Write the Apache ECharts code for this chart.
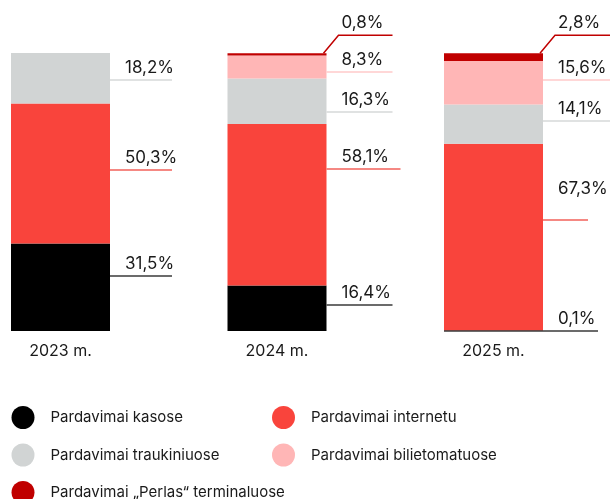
<!DOCTYPE html>
<html>
<head>
<meta charset="utf-8">
<script src="https://cdn.jsdelivr.net/npm/echarts@6/dist/echarts.min.js"></script>
<style>
  html, body { margin: 0; padding: 0; background: #fff; }
  #chart { width: 612px; height: 499px; }
</style>
</head>
<body>
<div id="chart"></div>
<script>
const categories = ['2023 m.', '2024 m.', '2025 m.']
const seriesNames = [
  'Pardavimai kasose',
  'Pardavimai internetu',
  'Pardavimai traukiniuose',
  'Pardavimai bilietomatuose',
  'Pardavimai „Perlas“ terminaluose',
]
const kasose = [31.5, 16.4, 0.1]
const internetu = [50.3, 58.1, 67.3]
const traukiniuose = [18.2, 16.3, 14.1]
const bilietomatuose = [null, 8.3, 15.6]
const perlas = [null, 0.8, 2.8]

const values = [kasose, internetu, traukiniuose, bilietomatuose, perlas]
const colors = ['#000000', '#f9443c', '#d1d4d4', '#ffb6b6', '#c00000']
const lineColors = ['#3a3a3a', '#f2605a', '#d6d8d8', '#ffcaca', '#c00000']

const BAR_W = 99

// hand placement of the value labels: line shift from segment middle (px),
// line length, extra text lift, line start shift, elbow leader
const labelLayout = {
  '0-0': { dy: -11, len: 62 },
  '0-1': { dy: -4, len: 62 },
  '0-2': { dy: 2, len: 62 },
  '1-0': { dy: -3, len: 66 },
  '1-1': { dy: -36, len: 74 },
  '1-2': { dy: 11, len: 66 },
  '1-3': { dy: 5, len: 66 },
  '1-4': { elbow: true, len: 66 },
  '2-0': { dy: 0, len: 55, x0: -BAR_W },
  '2-1': { dy: -17, len: 45, lift: 19 },
  '2-2': { dy: -3, len: 67 },
  '2-3': { dy: -3, len: 67 },
  '2-4': { elbow: true, len: 67 },
}

const fmt = (v) => v.toFixed(1).replace('.', ',') + '%'

// one label item per segment: [category, base, value, series]
const labelData = []
categories.forEach((c, ci) => {
  let base = 0
  values.forEach((arr, si) => {
    const v = arr[ci]
    if (v == null) return
    labelData.push([ci, base, v, si])
    base += v
  })
})

function renderLabel(params, api) {
  const ci = api.value(0)
  const base = api.value(1)
  const v = api.value(2)
  const si = api.value(3)
  const lay = labelLayout[ci + '-' + si] || { dy: 0, len: 64 }
  const pb = api.coord([ci, base])
  const pt = api.coord([ci, base + v])
  const right = pb[0] + BAR_W / 2
  const stroke = { stroke: lineColors[si], lineWidth: 1.5, fill: null }
  const textStyle = {
    text: fmt(v),
    x: right + 15,
    fill: '#1a1a1a',
    font: '17px Inter',
    verticalAlign: 'bottom',
  }
  if (lay.elbow) {
    const y = pt[1] - 18
    return {
      type: 'group',
      children: [
        {
          type: 'polyline',
          shape: { points: [[right - 3, pt[1]], [right + 12, y], [right + lay.len, y]] },
          style: stroke,
        },
        { type: 'text', style: Object.assign(textStyle, { y: y - 4 }) },
      ],
    }
  }
  const y = Math.round((pb[1] + pt[1]) / 2 + lay.dy)
  return {
    type: 'group',
    children: [
      {
        type: 'line',
        shape: { x1: right + (lay.x0 || 0), y1: y, x2: right + lay.len, y2: y },
        style: stroke,
      },
      { type: 'text', style: Object.assign(textStyle, { y: y - 4 - (lay.lift || 0) }) },
    ],
  }
}

const chart = echarts.init(document.getElementById('chart'))

const legendBase = {
  orient: 'vertical',
  top: 406,
  height: 130,
  padding: 0,
  itemGap: 14.5,
  itemWidth: 23,
  itemHeight: 23,
  icon: 'circle',
  selectedMode: false,
  textStyle: { fontFamily: 'Inter', fontSize: 15, color: '#1a1a1a', padding: [0, 0, 0, 11] },
}

chart.setOption({
  animation: false,
  grid: { left: 60.5, right: 118.5, top: 53, bottom: 168 },
  xAxis: {
    type: 'category',
    data: categories,
    boundaryGap: false,
    axisLine: { show: false },
    axisTick: { show: false },
    axisLabel: { margin: 12, color: '#1a1a1a', fontFamily: 'Inter', fontSize: 16 },
  },
  yAxis: { type: 'value', min: 0, max: 100, show: false, splitLine: { show: false } },
  legend: [
    Object.assign({}, legendBase, {
      left: 11.5,
      data: [seriesNames[0], seriesNames[2], seriesNames[4]],
    }),
    Object.assign({}, legendBase, {
      left: 272,
      data: [seriesNames[1], seriesNames[3]],
    }),
  ],
  series: values
    .map((arr, si) => ({
      name: seriesNames[si],
      type: 'bar',
      stack: 'total',
      barWidth: BAR_W,
      data: arr,
      itemStyle: { color: colors[si] },
      silent: true,
    }))
    .concat([
      {
        type: 'custom',
        renderItem: renderLabel,
        data: labelData,
        silent: true,
        z: 5,
      },
    ]),
})
</script>
</body>
</html>
